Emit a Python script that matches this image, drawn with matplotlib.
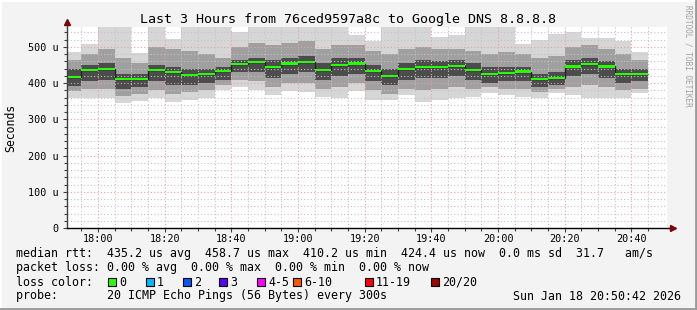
import numpy as np
import matplotlib
matplotlib.use('Agg')
import matplotlib.pyplot as plt
from matplotlib.patches import Rectangle
from matplotlib.lines import Line2D

MONO = 'DejaVu Sans Mono'

# time axis: minutes after 18:00, graph spans 17:50:42 .. 20:50:42 (5 min steps)
t_start = -9.3
t_end = 170.7
col_edges = [t_start] + list(range(-5, 170, 5))

# median rtt per 5 min step (microseconds)
median = [417, 436, 439, 412, 412, 436, 431, 423, 426, 434, 453, 459, 445, 454, 459,
          436, 451, 454, 434, 420, 439, 445, 445, 448, 436, 426, 429, 432, 412, 414,
          446, 453, 446, 425, 425]
# smoke envelope: outermost pings
ping_hi = [487, 508, 555, 555, 483, 555, 522, 555, 555, 555, 540, 555, 555, 555, 555,
           555, 555, 533, 517, 555, 555, 555, 528, 533, 555, 555, 555, 508, 519, 535,
           540, 524, 524, 517, 485]
ping_lo = [360, 360, 360, 345, 351, 360, 348, 353, 360, 381, 390, 381, 366, 378, 375,
           363, 360, 377, 353, 353, 366, 348, 353, 360, 363, 372, 366, 363, 360, 372,
           366, 360, 360, 360, 372]
# middle band
mid_hi = [465, 480, 495, 470, 455, 500, 495, 490, 480, 470, 500, 510, 505, 510, 515,
          495, 505, 505, 490, 480, 495, 500, 495, 495, 490, 480, 485, 480, 470, 475,
          500, 505, 495, 480, 465]
mid_lo = [378, 385, 385, 365, 370, 380, 370, 375, 380, 395, 410, 405, 390, 400, 400,
          385, 390, 400, 380, 370, 385, 380, 385, 390, 385, 390, 385, 385, 375, 385,
          390, 395, 390, 380, 385]
# dark core
core_hi = [440, 450, 455, 425, 425, 450, 445, 440, 440, 445, 465, 470, 465, 470, 475,
           455, 470, 470, 450, 440, 455, 465, 460, 465, 455, 445, 445, 445, 425, 430,
           465, 470, 460, 440, 440]
core_lo = [392, 405, 410, 385, 390, 405, 395, 395, 400, 410, 430, 430, 415, 425, 430,
           410, 420, 425, 405, 395, 410, 415, 415, 420, 410, 400, 405, 405, 390, 395,
           420, 425, 415, 400, 405]

x_ticks = [0, 20, 40, 60, 80, 100, 120, 140, 160]
x_labels = ['18:00', '18:20', '18:40', '19:00', '19:20', '19:40', '20:00', '20:20', '20:40']
y_ticks = [0, 100, 200, 300, 400, 500]
y_labels = ['0', '100 u', '200 u', '300 u', '400 u', '500 u']

loss_labels = ['0', '1', '2', '3', '4-5', '6-10', '11-19', '20/20']
loss_colors = ['#26ff00', '#00b8ff', '#0059ff', '#5e00ff', '#ff00ff', '#ff5500',
               '#ff0000', '#a00000']

W, H = 697, 310
fig = plt.figure(figsize=(W / 100, H / 100), dpi=100)
fig.patch.set_facecolor('#f3f3f3')
ax = fig.add_axes([67 / W, (H - 228) / H, 600 / W, 201 / H])
ax.set_facecolor('white')
ax.set_xlim(t_start, t_end)
ax.set_ylim(0, 555)

left = np.array(col_edges[:-1])
width = np.diff(col_edges)


def band(lo, hi, color):
    lo = np.array(lo)
    hi = np.array(hi)
    ax.bar(left, hi - lo, bottom=lo, width=width, align='edge', color=color,
           linewidth=0, zorder=1)


band(ping_lo, ping_hi, '#d6d6d6')
band(mid_lo, mid_hi, '#a0a0a0')
band(core_lo, core_hi, '#4c4c4c')

# grid
for m in range(-5, 170, 5):
    major = m % 20 == 0
    ax.axvline(m, color='#e8a0a0' if major else '#c4c4c4', lw=0.8,
               ls=(0, (1, 2)), zorder=2)
for v in range(20, 560, 20):
    major = v % 100 == 0
    ax.axhline(v, color='#e8a0a0' if major else '#c4c4c4', lw=0.8,
               ls=(0, (1, 2)), zorder=2)

# median: black step line plus green loss-colour bars
ax.stairs(median, col_edges, baseline=None, color='#202020', lw=1, zorder=3)
med = np.array(median)
ax.bar(left, 6, bottom=med - 3, width=width, align='edge', color=loss_colors[0],
       linewidth=0, zorder=4)

for s in ax.spines.values():
    s.set_visible(False)
ax.set_xticks(x_ticks)
ax.set_xticklabels(x_labels, family=MONO, fontsize=7.3)
ax.set_xticks(range(-5, 170, 5), minor=True)
ax.set_yticks(y_ticks)
ax.set_yticklabels(y_labels, family=MONO, fontsize=7.3)
ax.set_yticks(range(0, 560, 20), minor=True)
ax.tick_params(axis='both', which='major', length=3, width=0.8, color='#404040', pad=3)
ax.tick_params(axis='both', which='minor', length=2, width=0.8, color='#404040')
ax.tick_params(axis='x', pad=1.5)

# axis lines with arrows
ax.add_line(Line2D([0, 0], [0, 1.03], transform=ax.transAxes, color='#404040',
                   lw=1, clip_on=False, zorder=5))
ax.add_line(Line2D([0, 1.008], [0, 0], transform=ax.transAxes, color='black',
                   lw=1, clip_on=False, zorder=5))
ax.plot([0], [1.025], marker='^', ms=5, color='#800000', transform=ax.transAxes,
        clip_on=False, zorder=6)
ax.plot([1.01], [0], marker='>', ms=5, color='#800000', transform=ax.transAxes,
        clip_on=False, zorder=6)

fig.text(11 / W, 1 - 128 / H, 'Seconds', family=MONO, fontsize=8.3, rotation=90,
         ha='center', va='center')
fig.text(0.5, 1 - 19 / H, 'Last 3 Hours from 76ced9597a8c to Google DNS 8.8.8.8',
         family=MONO, fontsize=9.6, ha='center', va='center')
fig.text(688 / W, 1 - 5 / H, 'RRDTOOL / TOBI OETIKER', family=MONO, fontsize=5.6,
         color='#a0a0a0', rotation=270, ha='center', va='top')


def line(y, s, x=16, **kw):
    fig.text(x / W, 1 - y / H, s, family=MONO, fontsize=8.4, va='center', **kw)


line(254, 'median rtt:  435.2 us avg  458.7 us max  410.2 us min  424.4 us now  '
          '0.0 ms sd  31.7   am/s')
line(268, 'packet loss: 0.00 % avg  0.00 % max  0.00 % min  0.00 % now')
line(282, 'loss color:')
box_x = [108, 146, 183, 219, 257, 293, 365, 431]
for bx, lab, col in zip(box_x, loss_labels, loss_colors):
    fig.patches.append(Rectangle((bx / W, 1 - 286 / H), 8 / W, 8 / H,
                                 transform=fig.transFigure, facecolor=col,
                                 edgecolor='black', lw=0.8))
    line(282, lab, x=bx + 11)
line(296, 'probe:       20 ICMP Echo Pings (56 Bytes) every 300s')
line(296, 'Sun Jan 18 20:50:42 2026', x=681, ha='right')

# 3d-ish frame
fig.add_artist(Line2D([0, 1], [1 - 0.5 / H, 1 - 0.5 / H], color='white', lw=1.5))
fig.add_artist(Line2D([0.5 / W, 0.5 / W], [0, 1], color='white', lw=1.5))
fig.add_artist(Line2D([1 - 1 / W, 1 - 1 / W], [0, 1], color='#9a9a9a', lw=2))
fig.add_artist(Line2D([0, 1], [1 / H, 1 / H], color='#9a9a9a', lw=2))

fig.savefig('out.png', dpi=100, facecolor=fig.get_facecolor())
